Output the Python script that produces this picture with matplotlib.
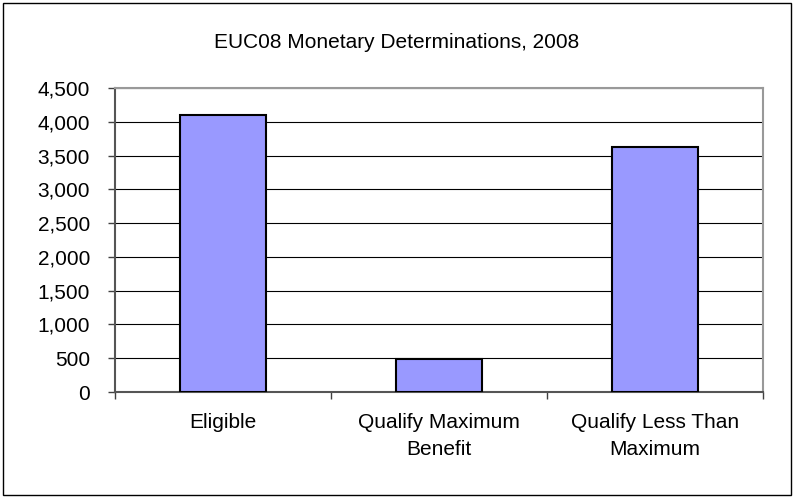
import numpy as np
import matplotlib
matplotlib.use("Agg")
import matplotlib.pyplot as plt
from matplotlib.patches import Rectangle

# Data
categories = ["Eligible", "Qualify Maximum\nBenefit", "Qualify Less Than\nMaximum"]
values = [4100, 490, 3620]
y_ticks = [0, 500, 1000, 1500, 2000, 2500, 3000, 3500, 4000, 4500]
title = "EUC08 Monetary Determinations, 2008"

plt.rcParams["font.family"] = ["Liberation Sans", "DejaVu Sans"]

fig = plt.figure(figsize=(7.94, 4.98), dpi=100)
ax = fig.add_axes([115 / 794, 1 - 392 / 498, 648 / 794, 304 / 498])

x = np.arange(len(categories))
ax.bar(x, values, width=0.4, color="#9999FF", edgecolor="black", linewidth=1.5, zorder=3)

ax.set_xlim(-0.5, len(categories) - 0.5)
ax.set_ylim(0, 4500)
ax.set_yticks(y_ticks)
ax.set_yticklabels([f"{v:,}" for v in y_ticks], fontsize=15)
ax.yaxis.grid(True, color="black", linewidth=0.8, zorder=0)
ax.set_axisbelow(True)

ax.set_xticks(x)
ax.set_xticklabels(categories, fontsize=15, linespacing=1.55)
ax.tick_params(axis="x", which="major", length=0, pad=15)
ax.set_xticks(np.arange(len(categories) + 1) - 0.5, minor=True)
ax.tick_params(axis="x", which="minor", length=5, color="#404040", width=1)
ax.tick_params(axis="y", length=5, color="#404040", width=1, pad=13)

for side in ["top", "right"]:
    ax.spines[side].set_color("#999999")
    ax.spines[side].set_linewidth(1.5)
for side in ["left", "bottom"]:
    ax.spines[side].set_color("#555555")
    ax.spines[side].set_linewidth(1.5)

fig.text(0.5, 1 - 42 / 498, title, ha="center", va="center", fontsize=15)

# outer chart border
fig.patches.append(Rectangle((3 / 794, 3 / 498), 788 / 794, 492 / 498, transform=fig.transFigure,
                             fill=False, edgecolor="black", linewidth=1))

fig.savefig("out.png", dpi=100)
